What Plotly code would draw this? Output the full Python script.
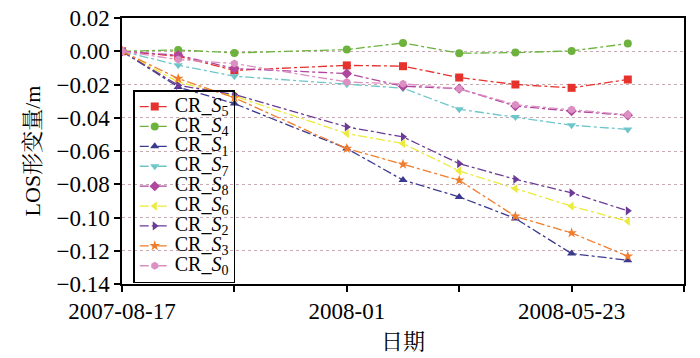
import plotly.graph_objects as go

dates = ['2007-08-17', '2007-09-21', '2007-10-26', '2008-01-04', '2008-02-08',
         '2008-03-14', '2008-04-18', '2008-05-23', '2008-06-27']

series_names = ['S5', 'S4', 'S1', 'S7', 'S8', 'S6', 'S2', 'S3', 'S0']

S5 = [0, -0.003, -0.0115, -0.0085, -0.009, -0.0158, -0.020, -0.022, -0.017]
S4 = [0, 0.0008, -0.001, 0.001, 0.005, -0.0012, -0.0008, 0.0002, 0.0046]
S1 = [0, -0.0215, -0.0315, -0.0585, -0.0775, -0.0876, -0.1006, -0.1217, -0.1257]
S7 = [0, -0.0084, -0.015, -0.0198, -0.0222, -0.0349, -0.0395, -0.0445, -0.047]
S8 = [0, -0.0024, -0.0104, -0.0134, -0.021, -0.0225, -0.033, -0.036, -0.0385]
S6 = [0, -0.0185, -0.027, -0.0495, -0.0555, -0.072, -0.0826, -0.0932, -0.1023]
S2 = [0, -0.0205, -0.026, -0.0455, -0.0515, -0.0676, -0.077, -0.0852, -0.096]
S3 = [0, -0.0164, -0.028, -0.0585, -0.068, -0.0776, -0.0993, -0.1093, -0.1233]
S0 = [0, -0.005, -0.0074, -0.0185, -0.0196, -0.0225, -0.0322, -0.035, -0.0382]

x_tickvals = ['2007-08-17', '2007-10-26', '2008-01-04', '2008-03-14', '2008-05-23', '2008-08-01']
x_ticktext = ['2007-08-17', '', '2008-01', '', '2008-05-23', '']
y_tickvals = [0.02, 0.0, -0.02, -0.04, -0.06, -0.08, -0.10, -0.12, -0.14]

values = [S5, S4, S1, S7, S8, S6, S2, S3, S0]
colors = ['#e5322d', '#6cb23c', '#3c3a8e', '#6fc6c9', '#b0479f', '#ecea3a', '#6b3b95', '#f07d2c', '#dc8fc2']
symbols = ['square', 'circle', 'triangle-up', 'triangle-down', 'diamond',
           'triangle-left', 'triangle-right', 'star', 'hexagon']

SERIF = 'Liberation Serif, Times New Roman, serif'
CJK = 'Liberation Serif, Noto Serif CJK SC, Noto Sans CJK SC, serif'

fig = go.Figure()
for name, vals, col, sym in zip(series_names, values, colors, symbols):
    label = '<span style="font-size:20px">CR_<i>S</i><sub>' + name[1:] + '</sub></span>'
    fig.add_trace(go.Scatter(
        x=dates, y=vals, mode='lines+markers', name=label,
        line=dict(color=col, width=1.3, dash='dashdot'),
        marker=dict(symbol=sym, size=8, color=col),
    ))

fig.update_layout(
    width=700, height=358,
    margin=dict(l=122, r=16, t=18, b=74),
    paper_bgcolor='white', plot_bgcolor='white',
    font=dict(family=SERIF, size=23, color='black'),
    showlegend=True,
    legend=dict(
        x=0.02, y=0.729, xanchor='left', yanchor='top',
        bgcolor='rgba(0,0,0,0)', bordercolor='black', borderwidth=1.5,
        font=dict(family=SERIF, size=13, color='black'),
        tracegroupgap=0, itemwidth=30,
    ),
    xaxis=dict(
        type='date', range=['2007-08-17', '2008-08-01'],
        tickmode='array', tickvals=x_tickvals, ticktext=x_ticktext,
        ticks='outside', ticklen=6, tickwidth=1.5, tickcolor='black',
        showline=True, linecolor='black', linewidth=1.5, mirror=True,
        showgrid=False, zeroline=False, automargin=False,
        tickfont=dict(family=SERIF, size=23),
        title=dict(text='日期', font=dict(family=CJK, size=22), standoff=10),
    ),
    yaxis=dict(
        range=[-0.14, 0.02], tickmode='array', tickvals=y_tickvals,
        tickformat='.2f',
        ticks='outside', ticklen=6, tickwidth=1.5, tickcolor='black',
        showline=True, linecolor='black', linewidth=1.5, mirror=True,
        showgrid=True, gridcolor='#c9aab3', gridwidth=1, griddash='dot',
        zeroline=False, automargin=False,
        tickfont=dict(family=SERIF, size=23),
        title=dict(text='LOS形变量/m', font=dict(family=CJK, size=22), standoff=10),
    ),
)

fig.write_html('out.html', config={'displayModeBar': False},
               post_script="document.body.style.margin='0';document.body.style.overflow='hidden';")
